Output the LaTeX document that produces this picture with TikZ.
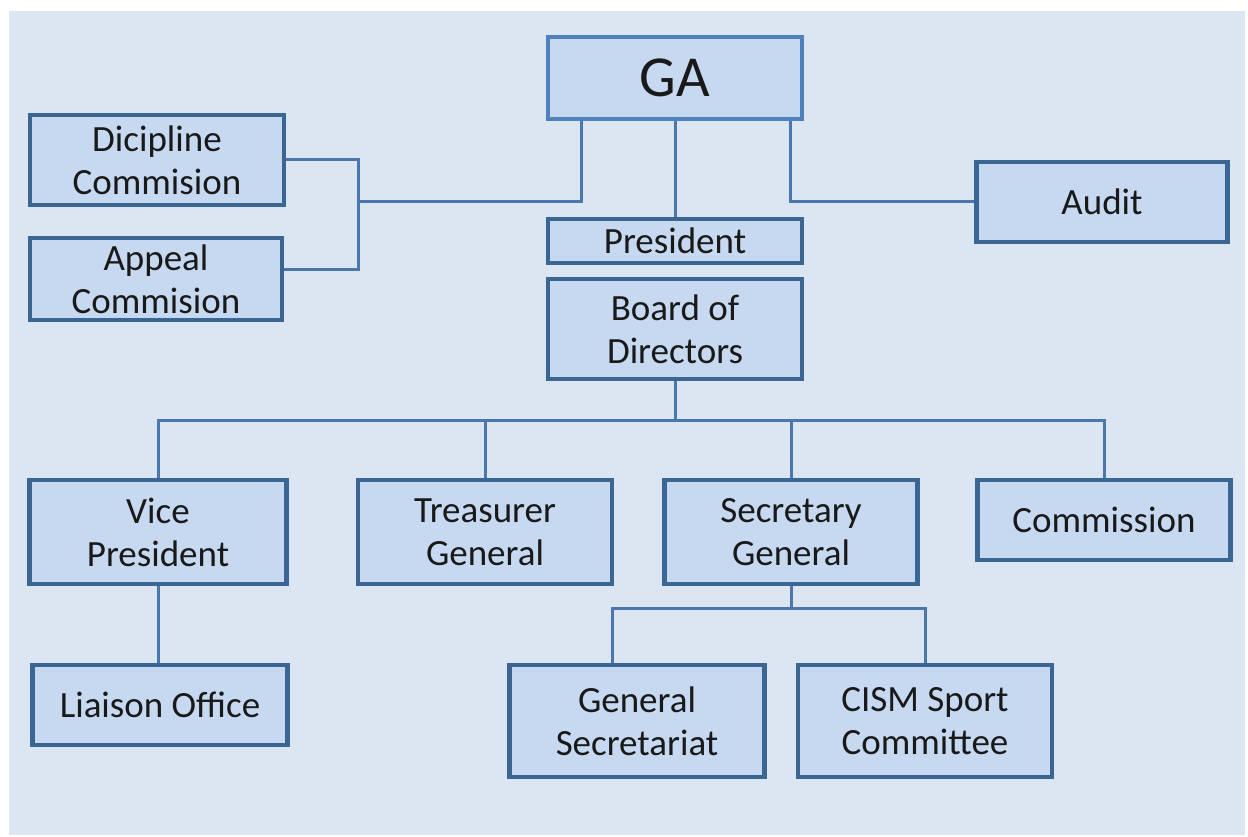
\documentclass[tikz,border=0pt]{standalone}
\usepackage{fontspec}
\setmainfont{Carlito}
\usepackage{tikz}
\usetikzlibrary{positioning, calc}

\definecolor{boxfill}{HTML}{C6D9F1}
\definecolor{boxline}{HTML}{3B6592}
\definecolor{galine}{HTML}{4F81BD}
\definecolor{wireline}{HTML}{4A78AC}
\definecolor{backfill}{HTML}{DCE6F2}

\begin{document}
\begin{tikzpicture}[x=1pt,y=-1pt,semithick]
	\tikzset{unit/.style={draw=boxline, line width=4.5pt, fill=boxfill, minimum width=254pt, align=center, inner sep=0pt, text=black!90, font=\fontsize{37}{43}\selectfont},
		wire/.style={draw=wireline, line width=3pt}}
	\useasboundingbox (0,0) rectangle (1248,837);
	\fill[backfill] (9,11) rectangle (1245,835);
	\node[unit, draw=galine, minimum height=82pt, font=\fontsize{58}{60}\selectfont] (ga) at (675,78) {GA};
	\node[unit, minimum height=90pt] (dic) at (157,160) {Dicipline\\Commision};
	\node[unit, minimum height=82pt, minimum width=252pt] (app) at (156,279) {Appeal\\Commision};
	\node[unit, minimum height=80pt, minimum width=251pt] (audit) at (1102,202) {Audit};
	\node[unit, minimum height=44pt] (pres) at (675,241) {President};
	\node[unit, minimum height=100pt] (board) at (675,329) {Board of\\Directors};
	\node[unit, minimum height=104pt, minimum width=257pt] (vice) at (158,532) {Vice\\President};
	\node[unit, minimum height=104pt] (treas) at (485,532) {Treasurer\\General};
	\node[unit, minimum height=104pt, minimum width=253pt] (secr) at (791,532) {Secretary\\General};
	\node[unit, minimum height=80pt, minimum width=253pt] (comm) at (1104,520) {Commission};
	\node[unit, minimum height=80pt, minimum width=255pt] (liaison) at (160,705) {Liaison Office};
	\node[unit, minimum height=112pt, minimum width=255pt] (gensec) at (637,721) {General\\Secretariat};
	\node[unit, minimum height=112pt] (cism) at (925,721) {CISM Sport\\Committee};
	\coordinate (jdc) at (358,202);
	\coordinate (bus) at (675,420);
	\coordinate (sbus) at (791,608);
	% links from GA
	\path[wire] ([xshift=-94pt]ga.south) |- (jdc);
	\path[wire] (dic.east) -| ([yshift=9pt]app.east -| jdc) -- ([yshift=9pt]app.east);
	\path[wire] (ga.south) -- (pres.north);
	\path[wire] ([xshift=115pt]ga.south) |- (audit.west);
	% board and below
	\path[wire] (board.south) -- (bus);
	\path[wire] (vice.north) |- (bus) -| (comm.north);
	\path[wire] (treas.north) -- (treas.north |- bus);
	\path[wire] (secr.north) -- (secr.north |- bus);
	\path[wire] (vice.south) -- (vice.south |- liaison.north);
	\path[wire] (secr.south) -- (sbus);
	\path[wire] ([xshift=-25pt]gensec.north) |- (sbus) -| (cism.north);
\end{tikzpicture}
\end{document}
